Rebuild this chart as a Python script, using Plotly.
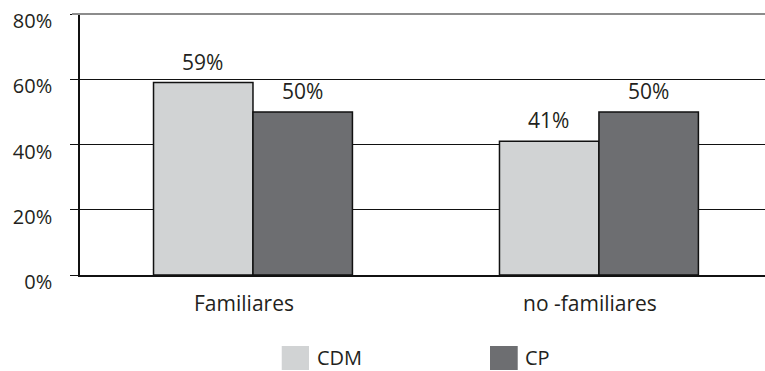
import plotly.graph_objects as go

categories = ["Familiares", "no -familiares"]
series_names = ["CDM", "CP"]
cdm_values = [59, 41]
cp_values = [50, 50]
y_ticks = [0, 20, 40, 60, 80]
y_tick_labels = ["0%", "20%", "40%", "60%", "80%"]

colors = ["#d1d3d4", "#6d6e71"]
FONT = "Open Sans"
TXT = "#231f20"
BAR_PX = 100  # pixel width of each bar (for label placement)

fig = go.Figure()
annotations = []
series_vals = [cdm_values, cp_values]
for i, (name, vals, col) in enumerate(zip(series_names, series_vals, colors)):
    fig.add_trace(go.Bar(
        x=categories, y=vals, name=name,
        marker=dict(color=col, line=dict(color="#111111", width=1.5)),
        showlegend=False,
    ))
    for cat, v in zip(categories, vals):
        annotations.append(dict(
            x=cat, y=v, xref="x", yref="y", text=f"{v}%", showarrow=False,
            xanchor="center", yanchor="bottom", xshift=(i - 0.5) * BAR_PX, yshift=5,
            font=dict(family=FONT, size=21, color=TXT)))

# custom legend (large swatches)
legend_boxes = [(0.2945, 0.3343), (0.5985, 0.6390)]
legend_text_x = [0.343, 0.6467]
shapes = []
for (x0, x1), tx, name, col in zip(legend_boxes, legend_text_x, series_names, colors):
    shapes.append(dict(type="rect", xref="paper", yref="paper", x0=x0, x1=x1,
                       y0=-0.364, y1=-0.272, fillcolor=col, line=dict(width=0)))
    annotations.append(dict(xref="paper", yref="paper", x=tx, y=-0.318, text=name,
                            showarrow=False, xanchor="left", yanchor="middle",
                            font=dict(family=FONT, size=20, color=TXT)))

# top frame line (grey)
shapes.append(dict(type="line", xref="paper", yref="paper", x0=-0.0117, x1=1, y0=1, y1=1,
                   line=dict(color="#8c8c8c", width=2), layer="above"))

fig.update_layout(
    width=765, height=371,
    margin=dict(l=80, r=0, t=14, b=96),
    paper_bgcolor="white", plot_bgcolor="white",
    barmode="group", bargap=0.425, bargroupgap=0,
    shapes=shapes, annotations=annotations,
    font=dict(family=FONT, color=TXT),
)
fig.update_xaxes(
    range=[-0.5, 1.48], showgrid=False, ticks="",
    showline=True, linecolor="#111111", linewidth=1.5,
    tickfont=dict(family=FONT, size=21, color=TXT),
    ticklabelstandoff=9, ticklabelshift=-9,
)
fig.update_yaxes(
    range=[0, 80], tickvals=y_ticks, ticktext=y_tick_labels,
    showgrid=True, gridcolor="#111111", gridwidth=1,
    showline=True, linecolor="#111111", linewidth=1.5,
    ticks="outside", ticklen=8, tickcolor="#111111", tickwidth=1,
    tickfont=dict(family=FONT, size=20, color=TXT),
    ticklabelstandoff=14, ticklabelshift=7, zeroline=False,
)

fig.write_html("out.html")
